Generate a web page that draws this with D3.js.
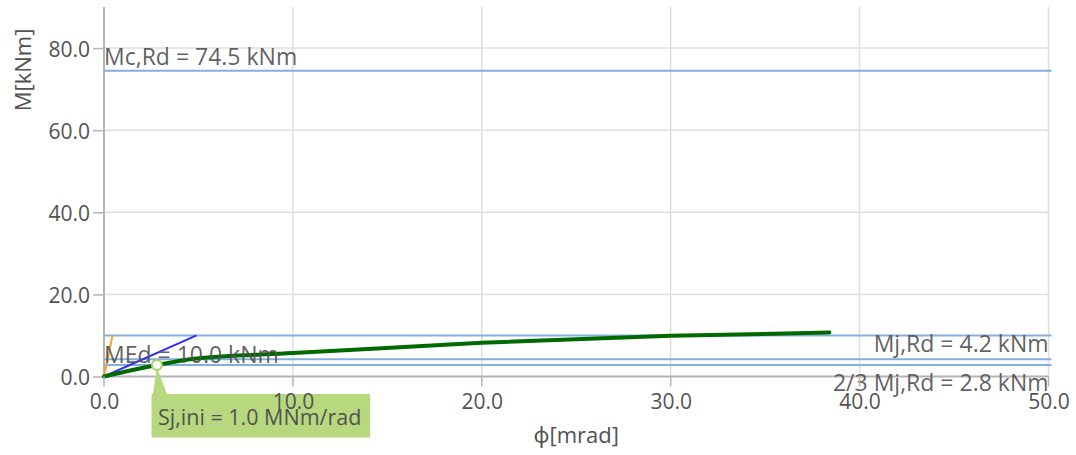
<!DOCTYPE html>
<html>
<head>
<meta charset="utf-8">
<script src="https://cdn.jsdelivr.net/npm/d3@7"></script>
<style>
  html, body { margin: 0; padding: 0; background: #fff; }
  svg { display: block; }
  text { font-family: "Open Sans", "Noto Sans", sans-serif; }
</style>
</head>
<body>
<svg id="chart" width="1076" height="455"></svg>
<script>
// Moment–rotation diagram of the joint
const xTicks = [0, 10, 20, 30, 40, 50];
const yTicks = [0, 20, 40, 60, 80];
const xDomain = [0, 50];
const yDomain = [0, 90];

// M–phi curve of the joint [mrad, kNm]
const curvePhi = [0, 2.8, 4.9, 10, 20, 30, 38.4];
const curveM   = [0, 2.8, 4.4, 5.7, 8.2, 9.9, 10.7];

// Reference moment levels
const refNames  = ["Mc,Rd = 74.5 kNm", "MEd = 10.0 kNm", "Mj,Rd = 4.2 kNm", "2/3 Mj,Rd = 2.8 kNm"];
const refValues = [74.5, 10.0, 4.2, 2.8];

// Initial stiffness line and loading line
const stiffPhi = [0, 4.9];
const stiffM   = [0, 10.0];
const loadPhi  = [0, 0.45];
const loadM    = [0, 10.0];

// Point where the initial stiffness is evaluated
const markerPhi = 2.8;
const markerM = 2.8;
const markerLabel = "Sj,ini = 1.0 MNm/rad";

const svg = d3.select("#chart");
const x = d3.scaleLinear().domain(xDomain).range([104, 1048.5]);
const y = d3.scaleLinear().domain(yDomain).range([376.5, 7]);

const gridColor = "#dedede";
const axisColor = "#b4b4b4";
const textColor = "#525252";

// grid
svg.append("g").selectAll("line").data(xTicks.slice(1)).join("line")
  .attr("x1", d => x(d)).attr("x2", d => x(d))
  .attr("y1", y(yDomain[1])).attr("y2", y(0))
  .attr("stroke", gridColor).attr("stroke-width", 1.5);
svg.append("g").selectAll("line").data(yTicks.slice(1)).join("line")
  .attr("x1", x(0)).attr("x2", x(xDomain[1]))
  .attr("y1", d => y(d)).attr("y2", d => y(d))
  .attr("stroke", gridColor).attr("stroke-width", 1.5);

// axes
const xAxis = svg.append("g").attr("transform", `translate(0,${y(0)})`)
  .call(d3.axisBottom(x).tickValues(xTicks).tickFormat(d3.format(".1f")).tickSize(10).tickPadding(8));
const yAxis = svg.append("g").attr("transform", `translate(${x(0)},0)`)
  .call(d3.axisLeft(y).tickValues(yTicks).tickFormat(d3.format(".1f")).tickSize(11).tickPadding(3));
[xAxis, yAxis].forEach(g => {
  g.select(".domain").remove();
  g.selectAll(".tick line").attr("stroke", axisColor).attr("stroke-width", 1.5);
  g.selectAll(".tick text").attr("fill", textColor).style("font-size", "21px");
});
yAxis.selectAll(".tick text").attr("dy", "0.4em");
svg.append("line")
  .attr("x1", x(0)).attr("x2", x(0)).attr("y1", y(yDomain[1])).attr("y2", y(0) + 3)
  .attr("stroke", axisColor).attr("stroke-width", 2);
svg.append("line")
  .attr("x1", x(0)).attr("x2", x(xDomain[1])).attr("y1", y(0)).attr("y2", y(0))
  .attr("stroke", axisColor).attr("stroke-width", 2);

// axis titles
svg.append("text")
  .attr("transform", `translate(31,70) rotate(-90)`)
  .attr("text-anchor", "middle").attr("fill", textColor).style("font-size", "22px")
  .text("M[kNm]");
svg.append("text")
  .attr("x", (x(0) + x(50)) / 2).attr("y", 443)
  .attr("text-anchor", "middle").attr("fill", textColor).style("font-size", "22px")
  .text("ϕ[mrad]");

// reference lines
svg.append("g").selectAll("line").data(refValues).join("line")
  .attr("x1", x(0)).attr("x2", x(xDomain[1]) + 3)
  .attr("y1", d => y(d)).attr("y2", d => y(d))
  .attr("stroke", "#86ade0").attr("stroke-width", 2);

const line = d3.line().x(d => x(d[0])).y(d => y(d[1]));

// loading path
svg.append("path").datum(loadPhi.map((p, i) => [p, loadM[i]]))
  .attr("d", line).attr("fill", "none")
  .attr("stroke", "#f4a62a").attr("stroke-width", 2);

// initial stiffness
svg.append("path").datum(stiffPhi.map((p, i) => [p, stiffM[i]]))
  .attr("d", line).attr("fill", "none")
  .attr("stroke", "#3030f4").attr("stroke-width", 2);

// M–phi curve
svg.append("path").datum(curvePhi.map((p, i) => [p, curveM[i]]))
  .attr("d", line.curve(d3.curveMonotoneX)).attr("fill", "none")
  .attr("stroke", "#006a00").attr("stroke-width", 4)
  .attr("stroke-linecap", "round").attr("stroke-linejoin", "round");

// reference labels
const refPos = [
  { anchor: "start", x: x(0), dy: -6 },
  { anchor: "start", x: x(0), dy: 28 },
  { anchor: "end",   x: x(50), dy: -7 },
  { anchor: "end",   x: x(50), dy: 26 }
];
svg.append("g").selectAll("text").data(refNames).join("text")
  .attr("x", (d, i) => refPos[i].x)
  .attr("y", (d, i) => y(refValues[i]) + refPos[i].dy)
  .attr("text-anchor", (d, i) => refPos[i].anchor)
  .attr("fill", textColor).attr("fill-opacity", 0.92)
  .style("font-size", "23px")
  .text(d => d);

// marker and callout
const mx = x(markerPhi), my = y(markerM);
const boxTop = 394, boxLeft = 151.5, boxW = 218.5, boxH = 43.5;
svg.append("path")
  .attr("d", `M${mx},${my + 2} L${mx - 4},${boxTop} L${mx + 10},${boxTop} Z`)
  .attr("fill", "#b8d880");
svg.append("rect")
  .attr("x", boxLeft).attr("y", boxTop).attr("width", boxW).attr("height", boxH)
  .attr("fill", "#b8d880");
svg.append("circle")
  .attr("cx", mx).attr("cy", my).attr("r", 5)
  .attr("fill", "#fff").attr("stroke", "#a8d060").attr("stroke-width", 2);
svg.append("text")
  .attr("x", boxLeft + 6.5).attr("y", boxTop + 31)
  .attr("fill", textColor).style("font-size", "21.5px")
  .text(markerLabel);

// tick labels sit on top of the callout
xAxis.raise();
xAxis.selectAll(".tick line").remove();
svg.append("g").selectAll("line").data(xTicks).join("line")
  .attr("x1", d => x(d)).attr("x2", d => x(d))
  .attr("y1", y(0)).attr("y2", y(0) + 10)
  .attr("stroke", axisColor).attr("stroke-width", 1.5);
</script>
</body>
</html>
